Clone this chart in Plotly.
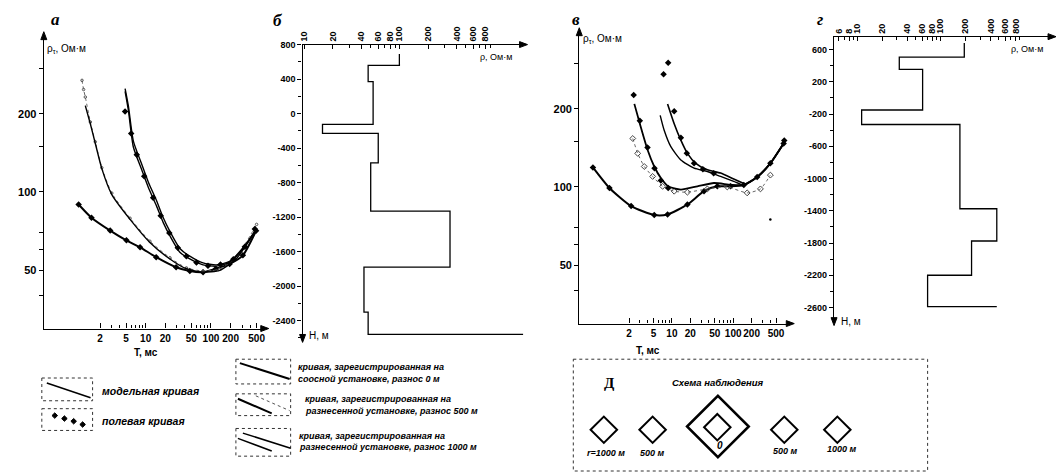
import plotly.graph_objects as go

W, H = 1058, 472

# ---------------- Panel а : apparent resistivity curves ----------------
a_T_0 = [0.94, 1.48, 2.86, 5.07, 8.2, 14.5, 29.3, 47.4, 75.7, 119, 193, 308, 491]
a_R_0 = [89.5, 79.6, 71.0, 65.1, 61.2, 56.1, 51.3, 49.6, 49.1, 50.6, 52.8, 57.0, 70.9]

a_T_500 = [1.19, 1.42, 1.69, 2.13, 3.03, 5.77, 11.6, 23.5, 42.1, 75.6, 136, 243, 464]
a_R_500 = [215, 183, 154, 123, 97.7, 78.4, 63.9, 55.2, 50.6, 49.1, 49.9, 55.2, 69.8]
a_T_500f = [1.06, 1.12, 1.19, 1.42, 1.69, 2.13, 3.03, 5.77, 11.6, 23.5, 42.1, 75.6, 136, 243, 500]
a_R_500f = [269, 248, 232, 186, 156, 124, 99, 79.2, 64.6, 55.8, 51.0, 49.6, 50.4, 56.0, 75.0]

a_T_1000 = [4.84, 5.44, 6.48, 8.68, 11.0, 14.7, 18.6, 23.5, 33.4, 47.4, 75.6, 121, 193, 308, 464]
a_R_1000a = [244, 206, 149, 122, 104, 88.2, 76.2, 67.8, 58.6, 55.2, 52.4, 51.8, 53.6, 60.3, 69.8]
a_R_1000b = [250, 214, 157, 128, 109, 92.5, 79.5, 70.5, 60.6, 56.6, 53.3, 52.4, 54.0, 60.8, 70.4]
a_T_1000f = [4.84, 6.0, 7.3, 9.5, 13.0, 17.0, 23.0, 31.0, 42.0, 60.0, 90.0, 140, 220, 330, 470]
a_R_1000f = [204, 168, 139, 115, 95.0, 81.0, 69.5, 61.0, 56.5, 53.5, 52.0, 52.6, 55.0, 61.5, 72.0]

# ---------------- Panel б : layered model ----------------
b_rho = [100, 47, 53, 15.6, 60, 50, 340, 42.5, 47]
b_bounds = [690, 560, 370, -125, -230, -570, -1130, -1780, -2300, -2560]
b_basement_rho = 2000

# ---------------- Panel в : apparent resistivity curves ----------------
v_T_0 = [0.515, 0.958, 2.16, 5.15, 8.5, 17.9, 33.4, 55.1, 90.5, 149, 246, 404, 664]
v_R_0 = [118.9, 99.1, 84.4, 78.0, 78.4, 85.6, 96.3, 100.6, 100.6, 101.8, 109.2, 123.4, 147.1]

v_T_0b = [2.44, 3.05, 4.02, 5.15, 6.61, 8.69, 14.0, 26.1, 48.5, 90.5, 149, 246, 404, 664]
v_R_0b = [208.9, 172.8, 138.7, 119.9, 108.2, 100.6, 97.7, 100.6, 103.6, 102.0, 101.8, 109.2, 123.4, 147.1]
v_T_0bf = [2.38, 3.0, 4.0, 5.2, 6.6, 8.7, 681]
v_R_0bf = [226, 180, 142, 118, 106, 99, 151]

v_T_500 = [2.30, 2.77, 3.54, 4.85, 7.05, 10.9, 17.9, 37.9, 80.1, 169, 278, 404]
v_R_500 = [153.7, 134.7, 119.9, 109.8, 100.6, 96.3, 95.5, 98.3, 100.0, 94.9, 98.3, 111.1]

v_T_1000a = [6.44, 7.48, 9.61, 14.0, 23.0, 37.9, 62.3, 102, 149, 246, 404, 664]
v_R_1000a = [188.6, 165.3, 142.9, 127.1, 118.1, 114.7, 109.8, 105.1, 101.8, 109.2, 123.4, 147.1]
v_T_1000b = [8.5, 10.9, 14.0, 17.9, 24.5, 37.9, 62.3, 102, 149]
v_R_1000b = [208.9, 175.3, 151.4, 134.7, 123.4, 116.4, 113.1, 107.3, 103.1]
v_T_1000f = [7.32, 8.69, 10.9, 14.0, 17.5, 23.0, 32.0, 48.0]
v_R_1000f = [271.8, 301.0, 195.8, 154.6, 134.7, 123.4, 117.0, 113.0]
v_T_stray = [404]
v_R_stray = [75.0]

# ---------------- Panel г : layered model ----------------
g_rho = [193, 32, 61, 11.3, 171, 474, 236, 70]
g_bounds = [680, 505, 355, -150, -330, -1375, -1775, -2200, -2590]
g_basement_rho = 474

# tick labels
T_ticks = [2, 5, 10, 20, 50, 100, 200, 500]
R_ticks = [50, 100, 200]
b_rho_ticks = [10, 20, 40, 60, 80, 100, 200, 400, 600, 800]
g_rho_ticks = [6, 8, 10, 20, 40, 60, 80, 100, 200, 400, 600, 800]
b_depth_ticks = list(range(800, -2401, -400))
g_depth_ticks = list(range(600, -2601, -400))


def step_profile(rho, bounds, basement):
    xs, ys = [], []
    for i, r in enumerate(rho):
        xs += [r, r]
        ys += [bounds[i], bounds[i + 1]]
    xs.append(basement)
    ys.append(bounds[-1])
    return xs, ys


def xd(p0, p1):
    return [p0 / W, p1 / W]


def yd(top, bottom):
    return [1 - bottom / H, 1 - top / H]


BLACK = "black"
SM = 0.6
fig = go.Figure()

# ---- panel а traces
fig.add_trace(go.Scatter(x=a_T_0, y=a_R_0, mode="lines+markers",
                         line=dict(color=BLACK, width=2, shape="spline", smoothing=SM),
                         marker=dict(symbol="diamond", size=5, color=BLACK), xaxis="x", yaxis="y"))
fig.add_trace(go.Scatter(x=a_T_500f, y=a_R_500f, mode="lines+markers",
                         line=dict(color="#666", width=1, dash="dot", shape="spline", smoothing=SM),
                         marker=dict(symbol="circle-open", size=2.5, color="#555"), xaxis="x", yaxis="y"))
fig.add_trace(go.Scatter(x=a_T_500, y=a_R_500, mode="lines",
                         line=dict(color=BLACK, width=1.4, shape="spline", smoothing=SM),
                         xaxis="x", yaxis="y"))
fig.add_trace(go.Scatter(x=a_T_1000, y=a_R_1000a, mode="lines",
                         line=dict(color=BLACK, width=1.4, shape="spline", smoothing=SM),
                         xaxis="x", yaxis="y"))
fig.add_trace(go.Scatter(x=a_T_1000, y=a_R_1000b, mode="lines",
                         line=dict(color=BLACK, width=1.4, shape="spline", smoothing=SM),
                         xaxis="x", yaxis="y"))
fig.add_trace(go.Scatter(x=a_T_1000f, y=a_R_1000f, mode="markers",
                         marker=dict(symbol="diamond", size=5, color=BLACK), xaxis="x", yaxis="y"))

# ---- panel б
bx, by = step_profile(b_rho, b_bounds, b_basement_rho)
fig.add_trace(go.Scatter(x=bx, y=by, mode="lines", line=dict(color=BLACK, width=1.3), xaxis="x2", yaxis="y2"))

# ---- panel в traces
fig.add_trace(go.Scatter(x=v_T_0, y=v_R_0, mode="lines+markers",
                         line=dict(color=BLACK, width=2, shape="spline", smoothing=SM),
                         marker=dict(symbol="diamond", size=5, color=BLACK), xaxis="x3", yaxis="y3"))
fig.add_trace(go.Scatter(x=v_T_500, y=v_R_500, mode="lines+markers",
                         line=dict(color="#666", width=1, dash="dot", shape="spline", smoothing=SM),
                         marker=dict(symbol="diamond-open", size=4.5, color="#444"), xaxis="x3", yaxis="y3"))
fig.add_trace(go.Scatter(x=v_T_0b, y=v_R_0b, mode="lines",
                         line=dict(color=BLACK, width=1.8, shape="spline", smoothing=SM),
                         xaxis="x3", yaxis="y3"))
fig.add_trace(go.Scatter(x=v_T_0bf, y=v_R_0bf, mode="markers", marker=dict(symbol="diamond", size=5, color=BLACK),
                         xaxis="x3", yaxis="y3"))
fig.add_trace(go.Scatter(x=v_T_1000a, y=v_R_1000a, mode="lines",
                         line=dict(color=BLACK, width=1.4, shape="spline", smoothing=SM),
                         xaxis="x3", yaxis="y3"))
fig.add_trace(go.Scatter(x=v_T_1000b, y=v_R_1000b, mode="lines",
                         line=dict(color=BLACK, width=1.6, shape="spline", smoothing=SM),
                         xaxis="x3", yaxis="y3"))
fig.add_trace(go.Scatter(x=v_T_1000f, y=v_R_1000f, mode="markers", marker=dict(symbol="diamond", size=5, color=BLACK),
                         xaxis="x3", yaxis="y3"))
fig.add_trace(go.Scatter(x=v_T_stray, y=v_R_stray, mode="markers", marker=dict(symbol="circle", size=2.5, color=BLACK),
                         xaxis="x3", yaxis="y3"))

# ---- panel г
gx, gy = step_profile(g_rho, g_bounds, g_basement_rho)
fig.add_trace(go.Scatter(x=gx, y=gy, mode="lines", line=dict(color=BLACK, width=1.3), xaxis="x4", yaxis="y4"))

# ---- overlay pixel axis for decorations
fig.add_trace(go.Scatter(x=[None], y=[None], mode="markers", xaxis="x5", yaxis="y5", hoverinfo="skip"))

num_font = dict(family="Liberation Sans, Arial", size=11, color=BLACK, weight="bold")
small_font = dict(family="Liberation Sans, Arial", size=9, color=BLACK, weight="bold")

common = dict(showgrid=False, zeroline=False, showline=True, linecolor=BLACK, linewidth=1.3,
              tickcolor=BLACK, tickwidth=1, fixedrange=True)

fig.update_layout(
    width=W, height=H, autosize=False,
    margin=dict(l=0, r=0, t=0, b=0),
    paper_bgcolor="white", plot_bgcolor="rgba(0,0,0,0)",
    showlegend=False,
    xaxis=dict(type="log", range=[-0.560, 2.824], domain=xd(40, 262), anchor="y",
               tickvals=T_ticks, ticktext=[str(v) for v in T_ticks], ticks="inside", ticklen=5, tickangle=0,
               minor=dict(tickvals=[3, 4, 6, 7, 8, 9, 30, 40, 60, 70, 80, 90, 300, 400], ticks="inside", ticklen=3,
                          tickcolor=BLACK),
               tickfont=dict(num_font, size=10), **common),
    yaxis=dict(type="log", range=[1.474, 2.598], domain=yd(32, 327), anchor="x",
               tickvals=R_ticks, ticktext=[str(v) for v in R_ticks], ticks="outside", ticklen=4,
               minor=dict(tickvals=[40, 60, 70, 150, 300], ticks="outside", ticklen=4, tickcolor=BLACK),
               tickfont=num_font, **common),
    xaxis2=dict(type="log", range=[0.984, 3.30], domain=xd(300, 521.7), anchor="y2", side="top",
                tickvals=b_rho_ticks, ticktext=[str(v) for v in b_rho_ticks], ticks="inside", ticklen=4,
                tickangle=-90,
                minor=dict(tickvals=[30, 50, 70, 90, 300, 500, 700, 900], ticks="inside", ticklen=3, tickcolor=BLACK),
                tickfont=small_font, **common),
    yaxis2=dict(range=[-2606, 800], domain=yd(40, 337), anchor="x2",
                tickvals=b_depth_ticks, ticktext=[str(v) for v in b_depth_ticks], ticks="outside", ticklen=4,
                minor=dict(dtick=200, ticks="outside", ticklen=3, tickcolor=BLACK),
                tickfont=small_font, **common),
    xaxis3=dict(type="log", range=[-0.511, 2.931], domain=xd(578, 790), anchor="y3",
                tickvals=T_ticks, ticktext=[str(v) for v in T_ticks], ticks="inside", ticklen=5, tickangle=0,
                minor=dict(tickvals=[3, 4, 6, 7, 8, 9, 30, 40, 60, 70, 80, 90, 300, 400], ticks="inside", ticklen=3,
                           tickcolor=BLACK),
                tickfont=dict(num_font, size=10), **common),
    yaxis3=dict(type="log", range=[1.474, 2.594], domain=yd(28, 322), anchor="x3",
                tickvals=R_ticks, ticktext=[str(v) for v in R_ticks], ticks="outside", ticklen=4,
                minor=dict(tickvals=[40, 60, 70, 150, 300], ticks="outside", ticklen=4, tickcolor=BLACK),
                tickfont=num_font, **common),
    xaxis4=dict(type="log", range=[0.722, 3.339], domain=xd(834, 1053), anchor="y4", side="top",
                tickvals=g_rho_ticks, ticktext=[str(v) for v in g_rho_ticks], ticks="inside", ticklen=4,
                tickangle=-90,
                minor=dict(tickvals=[7, 9, 30, 50, 70, 90, 300, 500, 700, 900], ticks="inside", ticklen=3,
                           tickcolor=BLACK),
                tickfont=small_font, **common),
    yaxis4=dict(range=[-2775, 760], domain=yd(32, 320), anchor="x4",
                tickvals=g_depth_ticks, ticktext=[str(v) for v in g_depth_ticks], ticks="outside", ticklen=4,
                minor=dict(dtick=200, tick0=0, ticks="outside", ticklen=3, tickcolor=BLACK),
                tickfont=small_font, **common),
    xaxis5=dict(range=[0, W], domain=[0, 1], anchor="y5", visible=False, fixedrange=True),
    yaxis5=dict(range=[H, 0], domain=[0, 1], anchor="x5", visible=False, fixedrange=True),
)

ann = []
shapes = []


def text(x, y, s, size=10, xanchor="left", family="Liberation Sans, Arial", italic=True, bold=True):
    ann.append(dict(x=x, y=y, xref="x5", yref="y5", text=s, showarrow=False, xanchor=xanchor, yanchor="middle",
                    font=dict(family=family, size=size, color=BLACK,
                              style="italic" if italic else "normal",
                              weight="bold" if bold else "normal")))


def arrowhead(x, y, direction, L=8, w=3):
    if direction == "up":
        p = f"M {x},{y} L {x - w},{y + L} L {x + w},{y + L} Z"
    elif direction == "down":
        p = f"M {x},{y} L {x - w},{y - L} L {x + w},{y - L} Z"
    else:  # right
        p = f"M {x},{y} L {x - L},{y - w} L {x - L},{y + w} Z"
    shapes.append(dict(type="path", xref="x5", yref="y5", path=p, line=dict(color=BLACK, width=1),
                       fillcolor=BLACK))


def line(x0, y0, x1, y1, width=1.5, dash="solid", color=BLACK):
    shapes.append(dict(type="line", xref="x5", yref="y5", x0=x0, y0=y0, x1=x1, y1=y1,
                       line=dict(color=color, width=width, dash=dash)))


def box(x0, y0, x1, y1):
    shapes.append(dict(type="rect", xref="x5", yref="y5", x0=x0, y0=y0, x1=x1, y1=y1,
                       line=dict(color="#333", width=1, dash="dot")))


def diamond(cx, cy, r, width=2, fill=None):
    shapes.append(dict(type="path", xref="x5", yref="y5",
                       path=f"M {cx - r},{cy} L {cx},{cy - r} L {cx + r},{cy} L {cx},{cy + r} Z",
                       line=dict(color=BLACK, width=width), fillcolor=fill if fill else "rgba(0,0,0,0)"))


# panel letters
for x, y, s in [(52, 15, "а"), (275, 16, "б"), (575, 15, "в"), (820, 15, "г")]:
    text(x, y, s, size=17, xanchor="center", family="Liberation Serif, Times New Roman")

# axis titles
text(41, 44, "ρ<sub>τ</sub>, Ом·м", size=10, italic=False, bold=False)
text(580, 34, "ρ<sub>τ</sub>, Ом·м", size=10, italic=False, bold=False)
text(143, 351, "T, мс", size=10, xanchor="center", italic=False)
text(647, 349, "T, мс", size=10, xanchor="center", italic=False)
text(476, 53, "ρ, Ом·м", size=9, italic=False, bold=False)
text(1010, 44, "ρ, Ом·м", size=9, italic=False, bold=False)
text(304, 334, "H, м", size=10, italic=False, bold=False)
text(839, 320, "H, м", size=10, italic=False, bold=False)

# axis arrows
arrowhead(40, 27, "up")
arrowhead(266, 327, "right")
arrowhead(578, 23, "up")
arrowhead(794, 322, "right")
arrowhead(526, 40, "right")
arrowhead(300, 341, "down")
arrowhead(1057, 32, "right")
arrowhead(834, 324, "down")

# left legend
box(38, 377, 89, 400)
line(43, 382, 87, 397, width=1.5)
text(96, 390, "модельная кривая", size=10.5)
box(38, 408, 89, 430)
for cx, cy in [(51, 415), (60.7, 418), (70, 420.7), (79, 424)]:
    diamond(cx, cy, 2.8, width=1, fill=BLACK)
text(96, 420, "полевая кривая", size=10.5)

box(233, 358, 288, 383)
line(237, 362, 287, 378, width=2)
text(293, 366, "кривая, зарегистрированная на", size=9)
text(293, 378, "соосной установке, разнос 0 м", size=9)

box(233, 393, 288, 415)
line(235, 398, 269, 412.7, width=2)
line(253, 395, 287, 410, width=1, dash="dot", color="#555")
text(300, 398.5, "кривая, зарегистрированная на", size=9)
text(300, 410, "разнесенной установке, разнос 500 м", size=9)

box(233, 428, 288, 456)
line(240, 432.7, 288, 448, width=1.5)
line(235, 438, 269, 450.7, width=1.5)
text(294, 436, "кривая, зарегистрированная на", size=9)
text(294, 447, "разнесенной установке, разнос 1000 м", size=9)

# observation scheme box
box(572, 358, 928, 471)
text(608, 382, "Д", size=15, xanchor="center", family="Liberation Serif, Times New Roman", italic=False)
text(717, 382, "Схема наблюдения", size=9.5, xanchor="center")
diamond(602.7, 429.3, 13.3)
diamond(651.7, 429.3, 13.3)
diamond(717.3, 426, 31, width=2.5)
diamond(716.7, 426.7, 13.3)
diamond(784, 429.3, 13.3)
diamond(837.3, 429.3, 13.3)
text(605, 453, "r=1000 м", size=9, xanchor="center")
text(651.7, 453, "500 м", size=9, xanchor="center")
text(719, 445, "0", size=10, xanchor="center")
text(785, 451, "500 м", size=9, xanchor="center")
text(841.7, 448.5, "1000 м", size=9, xanchor="center")

fig.update_layout(annotations=ann, shapes=shapes)

fig.write_html("out.html", config={"displayModeBar": False},
               post_script="document.body.style.margin='0';document.body.style.overflow='hidden';")
